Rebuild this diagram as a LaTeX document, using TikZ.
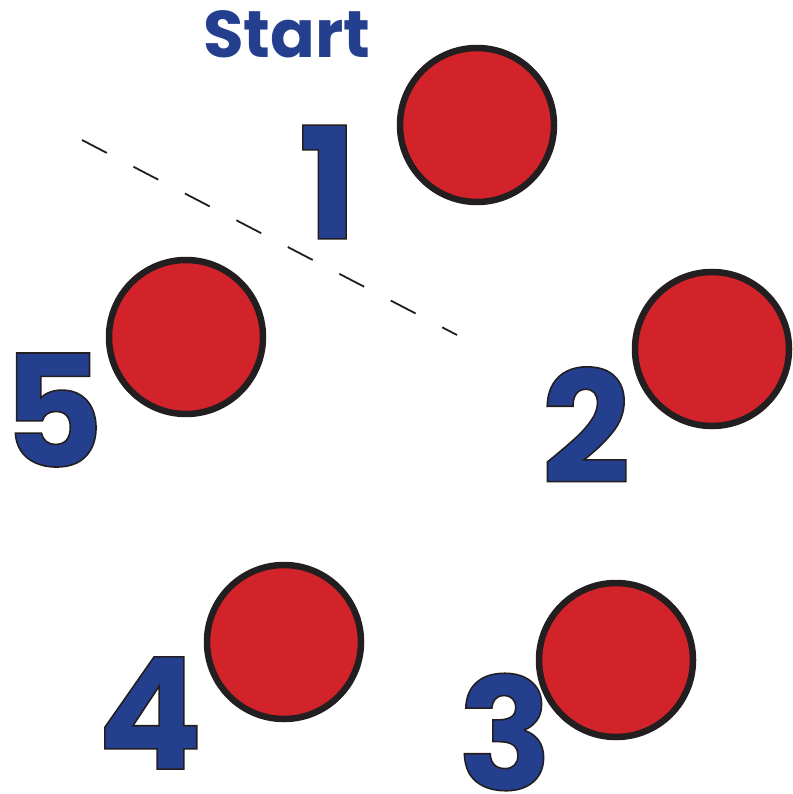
\documentclass[tikz,border=0pt]{standalone}
\usepackage{fontspec}
\newfontfamily\digitfont{Poppins}
\definecolor{dotred}{HTML}{D2232A}
\definecolor{numblue}{HTML}{253F8F}
\definecolor{rim}{HTML}{231F20}
% fill and stroke the glyphs (text render mode 2)
\newcommand{\rimtext}[1]{\special{pdf:literal direct 2 Tr 1.6 w 0.137 0.122 0.125 RG}#1\special{pdf:literal direct 0 Tr}}
\tikzset{
  dot/.style={circle,fill=dotred,draw=rim,line width=6.5pt,minimum size=154pt,inner sep=0pt},
  digit/.style={inner sep=0pt,text=numblue,font=\digitfont\bfseries\fontsize{156}{156}\selectfont},
}

\begin{document}
\begin{tikzpicture}[x=1pt,y=-1pt]
  \useasboundingbox (0,0) rectangle (792,794);

  \node[inner sep=0pt,text=numblue,font=\digitfont\bfseries\fontsize{66}{66}\selectfont] (start) at (287,34) {Start};

  % the dots
  \node[dot] (dot1) at (477,125) {};
  \node[dot] (dot2) at (712,349) {};
  \node[dot] (dot3) at (616,660) {};
  \node[dot] (dot4) at (284,642) {};
  \node[dot] (dot5) at (186,337) {};

  % the numbers
  \node[digit] (num1) at (328,182) {\rimtext{1}};
  \node[digit] (num2) at (586,425) {\rimtext{2}};
  \node[digit] (num3) at (505,732) {\rimtext{3}};
  \node[digit] (num4) at (150,713) {\rimtext{4}};
  \node[digit] (num5) at (53,410) {\rimtext{5}};

  % finish line
  \coordinate (lineA) at (82,140);
  \coordinate (lineB) at (457,335);
  \draw[rim,line width=1.8pt,dash pattern=on 28pt off 30pt] (lineA) -- (lineB);
\end{tikzpicture}
\end{document}
